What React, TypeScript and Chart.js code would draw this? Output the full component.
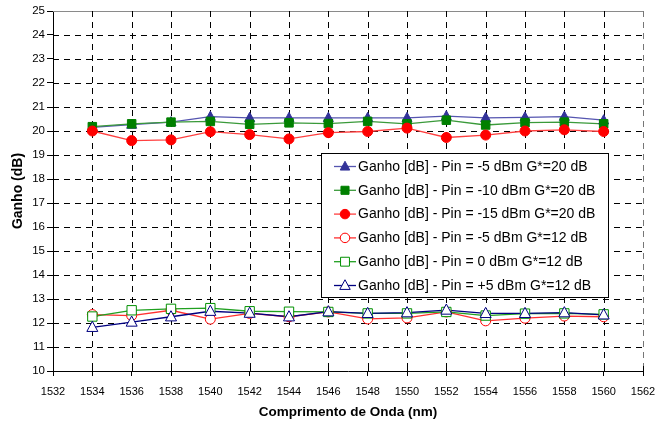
import React, { useEffect, useRef } from 'react';
import { Chart, registerables } from 'chart.js';

Chart.register(...registerables);

const wavelengths = [1534, 1536, 1538, 1540, 1542, 1544, 1546, 1548, 1550, 1552, 1554, 1556, 1558, 1560];

const pinMinus5G20 = [20.15, 20.27, 20.37, 20.6, 20.55, 20.55, 20.55, 20.55, 20.55, 20.62, 20.55, 20.57, 20.6, 20.45];
const pinMinus10G20 = [20.18, 20.3, 20.37, 20.4, 20.28, 20.34, 20.31, 20.4, 20.3, 20.45, 20.25, 20.35, 20.37, 20.3];
const pinMinus15G20 = [20.0, 19.6, 19.63, 19.97, 19.85, 19.67, 19.93, 19.98, 20.12, 19.73, 19.83, 20.0, 20.05, 19.98];
const pinMinus5G12 = [12.35, 12.31, 12.53, 12.16, 12.4, 12.26, 12.46, 12.17, 12.21, 12.46, 12.09, 12.2, 12.29, 12.26];
const pin0G12 = [12.27, 12.53, 12.59, 12.62, 12.49, 12.47, 12.46, 12.4, 12.4, 12.46, 12.31, 12.39, 12.4, 12.36];
const pinPlus5G12 = [11.82, 12.04, 12.26, 12.49, 12.41, 12.26, 12.47, 12.4, 12.43, 12.54, 12.4, 12.4, 12.43, 12.34];

const seriesLabels = [
  'Ganho [dB] - Pin = -5 dBm G*=20 dB',
  'Ganho [dB] - Pin = -10 dBm G*=20 dB',
  'Ganho [dB] - Pin = -15 dBm G*=20 dB',
  'Ganho [dB] - Pin = -5 dBm G*=12 dB',
  'Ganho [dB] - Pin = 0 dBm G*=12 dB',
  'Ganho [dB] - Pin = +5 dBm G*=12 dB',
];
const seriesValues = [pinMinus5G20, pinMinus10G20, pinMinus15G20, pinMinus5G12, pin0G12, pinPlus5G12];

const xAxisTitle = 'Comprimento de Onda (nm)';
const yAxisTitle = 'Ganho (dB)';
const xMin = 1532, xMax = 1562, xStep = 2;
const yMin = 10, yMax = 25, yStep = 1;

const styles = [
  { line: '#5555b0', stroke: '#333399', fill: '#333399', shape: 'triangle', r: 5 },
  { line: '#3a9a3a', stroke: '#008000', fill: '#008000', shape: 'rect', r: 5 },
  { line: '#ff4040', stroke: '#ff0000', fill: '#ff0000', shape: 'circle', r: 5 },
  { line: '#ff3030', stroke: '#ff0000', fill: '#ffffff', shape: 'circle', r: 5 },
  { line: '#20a020', stroke: '#009000', fill: '#ffffff', shape: 'rect', r: 5.5 },
  { line: '#000080', stroke: '#000080', fill: '#ffffff', shape: 'triangle', r: 5.5 },
];

const FONT = '"Liberation Sans", Arial, sans-serif';

function drawMarker(ctx: CanvasRenderingContext2D, shape: string, x: number, y: number, r: number, fill: string, stroke: string) {
  ctx.save();
  ctx.beginPath();
  if (shape === 'circle') {
    ctx.arc(x, y, r, 0, Math.PI * 2);
  } else if (shape === 'rect') {
    ctx.rect(x - r * 0.85, y - r * 0.85, r * 1.7, r * 1.7);
  } else {
    ctx.moveTo(x, y - r * 1.1);
    ctx.lineTo(x + r, y + r * 0.75);
    ctx.lineTo(x - r, y + r * 0.75);
    ctx.closePath();
  }
  ctx.fillStyle = fill;
  ctx.fill();
  ctx.lineWidth = 1;
  ctx.strokeStyle = stroke;
  ctx.stroke();
  ctx.restore();
}

const gridPlugin = {
  id: 'dashedGrid',
  beforeDatasetsDraw(chart: any) {
    const ctx = chart.ctx as CanvasRenderingContext2D;
    const area = chart.chartArea;
    const xs = chart.scales.x;
    const ys = chart.scales.y;
    ctx.save();
    ctx.lineWidth = 1;
    ys.ticks.forEach((t: any) => {
      const py = Math.round(ys.getPixelForValue(t.value)) + 0.5;
      if (t.value === yMin) return;
      ctx.beginPath();
      if (t.value === yMax) {
        ctx.setLineDash([]);
        ctx.strokeStyle = '#8a8a8a';
      } else {
        ctx.setLineDash([6, 5]);
        ctx.strokeStyle = '#000';
      }
      ctx.moveTo(area.left, py);
      ctx.lineTo(area.right, py);
      ctx.stroke();
    });
    xs.ticks.forEach((t: any) => {
      if (t.value === xMin) return;
      const px = Math.round(xs.getPixelForValue(t.value)) + 0.5;
      ctx.beginPath();
      ctx.setLineDash([6, 5]);
      ctx.strokeStyle = t.value === xMax ? '#777' : '#000';
      ctx.moveTo(px, area.top);
      ctx.lineTo(px, area.bottom);
      ctx.stroke();
    });
    ctx.restore();
  },
};

const legendPlugin = {
  id: 'insideLegend',
  afterDraw(chart: any) {
    const ctx = chart.ctx as CanvasRenderingContext2D;
    const left = 321, top = 153, width = 287, height = 144;
    ctx.save();
    ctx.fillStyle = '#ffffff';
    ctx.fillRect(left, top, width, height);
    ctx.strokeStyle = '#000000';
    ctx.lineWidth = 1;
    ctx.strokeRect(left + 0.5, top + 0.5, width, height);
    ctx.font = `14px ${FONT}`;
    ctx.textBaseline = 'middle';
    ctx.fillStyle = '#000000';
    const rowH = 23.8;
    seriesLabels.forEach((label, i) => {
      const y = top + 13.5 + i * rowH;
      const st = styles[i];
      ctx.strokeStyle = st.line;
      ctx.lineWidth = 1.3;
      ctx.beginPath();
      ctx.moveTo(left + 13, y);
      ctx.lineTo(left + 35, y);
      ctx.stroke();
      drawMarker(ctx, st.shape, left + 24, y, st.r * 0.95, st.fill, st.stroke);
      ctx.fillStyle = '#000000';
      ctx.fillText(label, left + 37, y + 0.5);
    });
    ctx.restore();
  },
};

const markerPlugin = {
  id: 'customMarkers',
  afterDatasetsDraw(chart: any) {
    const ctx = chart.ctx as CanvasRenderingContext2D;
    const area = chart.chartArea;
    ctx.save();
    for (let i = 0; i < seriesValues.length; i++) {
      const meta = chart.getDatasetMeta(i);
      const st = styles[i];
      meta.data.forEach((pt: any) => {
        drawMarker(ctx, st.shape, pt.x, pt.y, st.r, st.fill, st.stroke);
      });
    }
    const xs = chart.scales.x;
    ctx.strokeStyle = '#000';
    ctx.lineWidth = 1;
    xs.ticks.forEach((t: any) => {
      const px = Math.round(xs.getPixelForValue(t.value)) + 0.5;
      ctx.beginPath();
      ctx.moveTo(px, area.bottom);
      ctx.lineTo(px, area.bottom - 5);
      ctx.stroke();
    });
    ctx.restore();
  },
};

export default function App() {
  const canvasRef = useRef<HTMLCanvasElement | null>(null);

  useEffect(() => {
    document.body.style.margin = '0';
    const canvas = canvasRef.current;
    if (!canvas) return;
    const datasets = seriesValues.map((vals, i) => ({
      label: seriesLabels[i],
      data: wavelengths.map((w, j) => ({ x: w, y: vals[j] })),
      borderColor: styles[i].line,
      backgroundColor: styles[i].fill,
      borderWidth: 1.3,
      pointRadius: 0,
      pointHoverRadius: 0,
      tension: 0,
      order: 10 - i,
    }));
    const chart = new Chart(canvas, {
      type: 'line',
      data: { datasets },
      plugins: [gridPlugin, markerPlugin, legendPlugin],
      options: {
        animation: false,
        responsive: false,
        devicePixelRatio: 1,
        layout: { padding: { top: 11, right: 25, left: 0, bottom: 0 } },
        plugins: {
          legend: { display: false },
          tooltip: { enabled: false },
        },
        scales: {
          x: {
            type: 'linear',
            min: xMin,
            max: xMax,
            afterFit: (scale: any) => { scale.height = 53; },
            ticks: {
              stepSize: xStep,
              color: '#000',
              font: { family: FONT, size: 11 },
              padding: 9,
              maxRotation: 0,
              autoSkip: false,
              callback: (v: any) => String(v),
            },
            grid: {
              drawOnChartArea: false,
              color: '#000',
              lineWidth: 1,
              tickLength: 5,
              tickColor: '#000',
            },
            border: { display: true, color: '#000', width: 1 },
            title: {
              display: true,
              text: xAxisTitle,
              color: '#000',
              font: { family: FONT, size: 13.5, weight: 'bold' },
              padding: { top: 2, bottom: 4 },
            },
          },
          y: {
            type: 'linear',
            min: yMin,
            max: yMax,
            afterFit: (scale: any) => { scale.width = 53; },
            ticks: {
              stepSize: yStep,
              color: '#000',
              font: { family: FONT, size: 11.5 },
              padding: 2,
              autoSkip: false,
              callback: (v: any) => String(v),
            },
            grid: {
              drawOnChartArea: false,
              color: '#000',
              lineWidth: 1,
              tickLength: 6,
              tickColor: '#000',
            },
            border: { display: true, color: '#000', width: 1 },
            title: {
              display: true,
              text: yAxisTitle,
              color: '#000',
              font: { family: FONT, size: 14, weight: 'bold' },
              padding: { top: 10, bottom: 2 },
            },
          },
        },
      } as any,
    });
    return () => chart.destroy();
  }, []);

  return (
    <div style={{ position: 'fixed', left: 0, top: 0, width: 668, height: 424, background: '#fff' }}>
      <canvas ref={canvasRef} width={668} height={424} style={{ width: 668, height: 424 }} />
    </div>
  );
}
